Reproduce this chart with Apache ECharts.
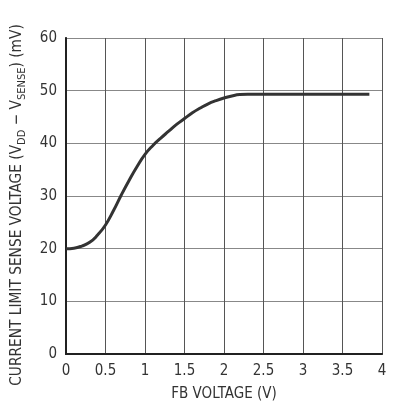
<!DOCTYPE html>
<html>
<head>
<meta charset="utf-8">
<script src="https://cdn.jsdelivr.net/npm/echarts@6/dist/echarts.min.js"></script>
<style>
  html, body { margin: 0; padding: 0; background: #fff; }
  #chart { width: 394px; height: 411px; }
</style>
</head>
<body>
<div id="chart"></div>
<script>
// FB voltage (V) and current limit sense voltage (mV)
var fbVoltage = [0, 0.1, 0.2, 0.3, 0.4, 0.5, 0.6, 0.7, 0.8, 0.9, 1.0, 1.1, 1.2, 1.3, 1.4, 1.5, 1.6, 1.7, 1.8, 1.9, 2.0, 2.1, 2.2, 2.3, 2.5, 3.0, 3.5, 3.84];
var senseVoltage = [20, 20.1, 20.5, 21.2, 22.6, 24.5, 27.2, 30.2, 33.0, 35.6, 37.9, 39.6, 41.0, 42.3, 43.6, 44.7, 45.8, 46.7, 47.5, 48.1, 48.6, 49.0, 49.25, 49.3, 49.3, 49.3, 49.3, 49.3];
var xTicks = [0, 0.5, 1, 1.5, 2, 2.5, 3, 3.5, 4];
var yTicks = [0, 10, 20, 30, 40, 50, 60];

var font = '"Liberation Sans Narrow", "DejaVu Sans Condensed", "Liberation Sans", sans-serif';

var points = fbVoltage.map(function (v, i) {
  return [v, senseVoltage[i]];
});

var myChart = echarts.init(document.getElementById('chart'));
var frameX = {
  type: 'value', position: 'top', min: xTicks[0], max: xTicks[xTicks.length - 1],
  axisLine: { show: true, lineStyle: { color: '#222', width: 1.5 } },
  axisTick: { show: false }, axisLabel: { show: false }, splitLine: { show: false }
};
var frameY = {
  type: 'value', position: 'right', min: yTicks[0], max: yTicks[yTicks.length - 1],
  axisLine: { show: true, lineStyle: { color: '#222', width: 1.5 } },
  axisTick: { show: false }, axisLabel: { show: false }, splitLine: { show: false }
};
var option = {
  animation: false,
  backgroundColor: '#fff',
  grid: {
    left: 66,
    right: 12,
    top: 38,
    bottom: 57
  },
  xAxis: [{
    type: 'value',
    min: xTicks[0],
    max: xTicks[xTicks.length - 1],
    interval: 0.5,
    name: 'FB VOLTAGE (V)',
    nameLocation: 'middle',
    nameGap: 33,
    nameTextStyle: { fontFamily: font, fontSize: 15, color: '#333' },
    axisLine: { show: true, lineStyle: { color: '#222', width: 2 } },
    axisTick: { show: false },
    axisLabel: {
      fontFamily: font, fontSize: 15, color: '#333', margin: 10,
      formatter: function (v) { return String(v); }
    },
    splitLine: { show: true, lineStyle: { color: '#555', width: 1 } }
  }, frameX],
  yAxis: [{
    type: 'value',
    min: yTicks[0],
    max: yTicks[yTicks.length - 1],
    interval: 10,
    name: '{t|CURRENT LIMIT SENSE VOLTAGE (V}{s|DD}{t| − V}{s|SENSE}{t|) (mV)}',
    nameLocation: 'middle',
    nameGap: 41,
    nameRotate: 90,
    nameTextStyle: {
      padding: [0, 18, 0, 0],
      rich: {
        t: { fontFamily: font, fontSize: 15.3, color: '#333', verticalAlign: 'bottom', lineHeight: 18 },
        s: { fontFamily: font, fontSize: 11, color: '#333', verticalAlign: 'bottom', lineHeight: 12, padding: [0, 0, -3, 0] }
      }
    },
    axisLine: { show: true, lineStyle: { color: '#222', width: 2 } },
    axisTick: { show: false },
    axisLabel: { fontFamily: font, fontSize: 15, color: '#333', margin: 9 },
    splitLine: { show: true, lineStyle: { color: '#888', width: 1 } }
  }, frameY],
  series: [
    {
      type: 'line',
      data: points,
      smooth: 0.5,
      showSymbol: false,
      lineStyle: { color: '#333', width: 3 }
    }
  ]
};
myChart.setOption(option);
</script>
</body>
</html>
